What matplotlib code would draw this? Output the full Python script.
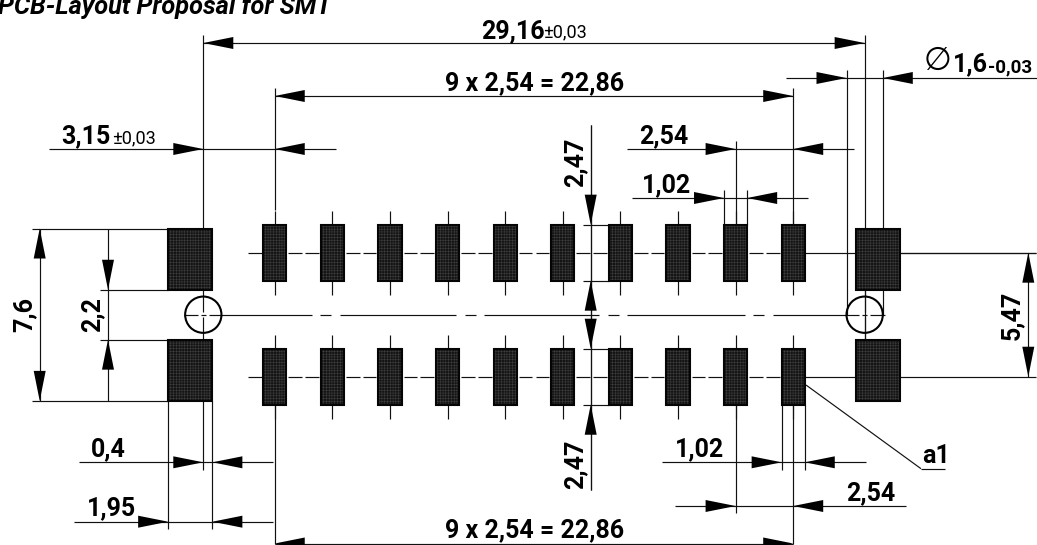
import matplotlib
matplotlib.use("Agg")
import matplotlib.pyplot as plt
from matplotlib.patches import Rectangle, Circle, Polygon

# dimensions of the footprint, mm
pitch = 2.54
pad_count = 10
first_pad = 3.15
hole_span = 29.16
hole_dia = 1.6
pad_w = 1.02
pad_h = 2.47
row_span = 5.47
big_w = 1.95
big_gap = 2.2
big_total = 7.6
big_offset = 0.4

# centre line short dashes, mm from left hole
short_dashes = [5.41, 11.76, 18.08, 24.50]

title = "PCB-Layout Proposal for SMT"
pitch_label = "9 x 2,54 = 22,86"

S = 22.68      # px per mm in the reference
X0 = 203.3
Y0 = 314.7
W, H = 1037, 545


def X(px):
    return (px - X0) / S


def Y(px):
    return (Y0 - px) / S


plt.rcParams['font.family'] = ['Roboto', 'DejaVu Sans']
plt.rcParams['hatch.linewidth'] = 0.3

fig = plt.figure(figsize=(W / 100, H / 100), dpi=100)
ax = fig.add_axes([0, 0, 1, 1])
ax.set_xlim(X(0), X(W))
ax.set_ylim(Y(H), Y(0))
ax.axis('off')

LW = 0.85
INK = '#111111'
BIG = 18
SMALL = 13


def seg(x1, y1, x2, y2, lw=LW, color=INK):
    ax.plot([x1, x2], [y1, y2], color=color, lw=lw, solid_capstyle='butt', zorder=2)


def arrow(x, y, dx, dy):
    # tip at x,y pointing along dx,dy
    ln = 30 / S
    hw = 6 / S
    pts = [(x, y),
           (x - dx * ln - dy * hw, y - dy * ln - dx * hw),
           (x - dx * ln + dy * hw, y - dy * ln + dx * hw)]
    ax.add_patch(Polygon(pts, closed=True, fc='black', ec='none', zorder=5))


def hdim(y, xa, xb, left, right, inward=True):
    seg(left, y, right, y)
    d = 1 if inward else -1
    arrow(xa, y, d, 0)
    arrow(xb, y, -d, 0)


def vdim(x, ya, yb, low, high, inward=True):
    # ya is the upper end
    seg(x, low, x, high)
    d = -1 if inward else 1
    arrow(x, ya, 0, d)
    arrow(x, yb, 0, -d)


def label(px, py, s, size=BIG, weight='bold'):
    ax.text(X(px), Y(py), s, fontsize=size, fontweight=weight, ha='left', va='baseline',
            color='black', zorder=6)


def vlabel(px, py, s):
    ax.text(X(px), Y(py), s, fontsize=BIG, fontweight='bold', rotation=90, ha='center',
            va='center', color='black', zorder=6)


def pad(xc, yc, w, h):
    ax.add_patch(Rectangle((xc - w / 2, yc - h / 2), w, h, fc='#141414', ec='#484848',
                           hatch='++++++', lw=0, zorder=4))
    ax.add_patch(Rectangle((xc - w / 2, yc - h / 2), w, h, fc='none', ec='#050505',
                           lw=1.5, zorder=4.5))


pad_x = [first_pad + i * pitch for i in range(pad_count)]
last_pad = pad_x[-1]
row_y = row_span / 2
big_h = (big_total - big_gap) / 2
big_y = (big_total + big_gap) / 4

# small pads and their centre ticks
tick = 14 / S
for yc in (row_y, -row_y):
    for x in pad_x:
        pad(x, yc, pad_w, pad_h)
        seg(x, yc + pad_h / 2, x, yc + pad_h / 2 + tick)
        seg(x, yc - pad_h / 2, x, yc - pad_h / 2 - tick)

    # row centre line, broken halfway between pads
    gap = 1.6 / S
    seg(X(248), yc, pad_x[0], yc)
    for a, b in zip(pad_x[:-1], pad_x[1:]):
        mid = (a + b) / 2
        seg(a + pad_w / 2 + 2 / S, yc, mid - gap, yc)
        seg(mid + gap, yc, b - pad_w / 2 - 2 / S, yc)
    seg(last_pad, yc, X(1036), yc)

# large pads
for xc in (big_offset - big_w / 2, hole_span - big_offset + big_w / 2):
    for yc in (big_y, -big_y):
        pad(xc, yc, big_w, big_h)

# mounting holes
for x in (0, hole_span):
    ax.add_patch(Circle((x, 0), hole_dia / 2, fc='none', ec='black', lw=1.5, zorder=3))
    seg(x, big_gap / 2, x, 0.12)
    seg(x, -0.12, x, -big_gap / 2)

# centre line through the holes
gap = 8.5 / S
half = 5.5 / S
edges = [X(184)]
for c in [0] + short_dashes + [hole_span]:
    h = half if c not in (0, hole_span) else 2.5 / S
    g = gap if c not in (0, hole_span) else 3 / S
    edges += [c - h - g, c - h, c + h, c + h + g]
edges.append(X(885))
for a, b in zip(edges[0::2], edges[1::2]):
    seg(a, 0, b, 0)

# extension lines
big_in = big_offset - big_w
seg(0, Y(35), 0, big_total / 2)
seg(0, -big_total / 2, 0, Y(470))
seg(hole_span, Y(35), hole_span, big_total / 2)
seg(hole_span, big_gap / 2, hole_span, -big_gap / 2)
seg(first_pad, Y(88), first_pad, Y(210))
seg(first_pad, -row_y - pad_h / 2, first_pad, Y(544))
seg(last_pad, Y(88), last_pad, row_y + pad_h / 2)
seg(last_pad, -row_y - pad_h / 2, last_pad, Y(544))
seg(hole_span - hole_dia / 2, Y(70), hole_span - hole_dia / 2, 0)
seg(hole_span + hole_dia / 2, Y(70), hole_span + hole_dia / 2, big_total / 2)
seg(hole_span + hole_dia / 2, big_gap / 2, hole_span + hole_dia / 2, 0)
p9 = pad_x[-2]
seg(p9, Y(141), p9, row_y + pad_h / 2)
seg(p9 - pad_w / 2, Y(190), p9 - pad_w / 2, row_y + pad_h / 2)
seg(p9 + pad_w / 2, Y(190), p9 + pad_w / 2, row_y + pad_h / 2)
seg(p9, -row_y - pad_h / 2, p9, Y(513))
seg(last_pad - pad_w / 2, -row_y - pad_h / 2, last_pad - pad_w / 2, Y(470))
seg(last_pad + pad_w / 2, -row_y - pad_h / 2, last_pad + pad_w / 2, Y(470))
seg(big_in, -big_total / 2, big_in, Y(529))
seg(big_offset, -big_total / 2, big_offset, Y(529))

# horizontal dimensions
hdim(Y(43), 0, hole_span, 0, hole_span, inward=False)
hdim(Y(96), first_pad, last_pad, first_pad, last_pad, inward=False)
hdim(Y(543.5), first_pad, last_pad, first_pad, last_pad, inward=False)
hdim(Y(149), 0, first_pad, X(49), X(336))
hdim(Y(149), p9, last_pad, X(627), X(854))
hdim(Y(78), hole_span - hole_dia / 2, hole_span + hole_dia / 2, X(786), X(1036.5))
hdim(Y(198), p9 - pad_w / 2, p9 + pad_w / 2, X(632), X(808))
hdim(Y(462.3), 0, big_offset, X(79), X(273))
hdim(Y(521.7), big_in, big_offset, X(74), X(273))
hdim(Y(462.3), last_pad - pad_w / 2, last_pad + pad_w / 2, X(662), X(866))
hdim(Y(506), p9, last_pad, X(675), X(906))

# vertical dimensions
xv = X(590.7)
vdim(xv, row_y + pad_h / 2, row_y - pad_h / 2, Y(490), Y(125))
vdim(xv, -row_y + pad_h / 2, -row_y - pad_h / 2, Y(490), Y(125))
for yc in (row_y + pad_h / 2, row_y - pad_h / 2, -row_y + pad_h / 2, -row_y - pad_h / 2):
    seg(X(583), yc, pad_x[6] - pad_w / 2, yc)

seg(X(32), big_total / 2, big_in, big_total / 2)
seg(X(32), -big_total / 2, big_in, -big_total / 2)
seg(X(100), big_gap / 2, big_in, big_gap / 2)
seg(X(100), -big_gap / 2, big_in, -big_gap / 2)
vdim(X(39.7), big_total / 2, -big_total / 2, -big_total / 2, big_total / 2, inward=False)
vdim(X(108), big_gap / 2, -big_gap / 2, -big_total / 2, big_total / 2)
seg(hole_span + big_offset, row_y, X(1036), row_y)
vdim(X(1028.3), row_y, -row_y, -row_y, row_y, inward=False)

# leader to a1
seg(X(806), Y(385), X(921), Y(468.7))
seg(X(921), Y(468.7), X(945), Y(468.7))

# texts
label(481, 38, "29,16")
label(543, 37, "±0,03", SMALL, 'normal')
label(445, 90, pitch_label)
label(445, 537, pitch_label)
label(61, 143, "3,15")
label(112, 143, "±0,03", SMALL, 'normal')
label(639, 143, "2,54")
label(642, 192, "1,02")
label(91, 456, "0,4")
label(87, 515, "1,95")
label(675, 456, "1,02")
label(846, 500, "2,54")
label(922, 463, "a1")
label(953, 71, "1,6")
label(988, 72, "-0,03", 13.5, 'bold')
ax.text(X(938), Y(61), "\u2205", fontsize=23, family='DejaVu Sans', ha='center', va='center', color='black')
vlabel(575, 162, "2,47")
vlabel(575, 464, "2,47")
vlabel(24, 314, "7,6")
vlabel(92, 315, "2,2")
vlabel(1012, 315, "5,47")
ax.text(X(-2), Y(14), title, fontsize=18.3, family='Roboto', fontweight='bold', style='italic',
        ha='left', va='baseline', color='black')

fig.savefig('out.png', dpi=100)
